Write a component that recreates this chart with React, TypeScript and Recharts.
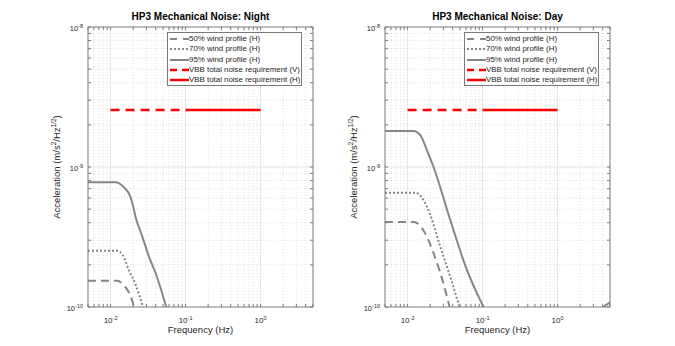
import React from 'react'
import { LineChart, Line, XAxis, YAxis, ReferenceLine } from 'recharts'

// ── Axis ticks and labels ────────────────────────────────────────────────────

const xTicks = [0.005, 0.006, 0.007, 0.008, 0.009, 0.01, 0.02, 0.03, 0.04, 0.05, 0.06, 0.07, 0.08, 0.09,
  0.1, 0.2, 0.3, 0.4, 0.5, 0.6, 0.7, 0.8, 0.9, 1, 2, 3, 4, 5]
const xMajor = [0.01, 0.1, 1]
const xTickExp = ['-2', '-1', '0']

const yTicks = [1e-10, 2e-10, 3e-10, 4e-10, 5e-10, 6e-10, 7e-10, 8e-10, 9e-10,
  1e-9, 2e-9, 3e-9, 4e-9, 5e-9, 6e-9, 7e-9, 8e-9, 9e-9, 1e-8]
const yMajor = [1e-10, 1e-9, 1e-8]
const yTickExp = ['-10', '-9', '-8']

// ── Night series (frequency Hz / acceleration) ───────────────────────────────

const night50F = [0.005, 0.0123, 0.0145, 0.0168, 0.0185, 0.0205]
const night50V = [1.54e-10, 1.54e-10, 1.46e-10, 1.32e-10, 1.2e-10, 1.0e-10]
const night70F = [0.005, 0.0123, 0.0145, 0.0175, 0.0215, 0.027]
const night70V = [2.52e-10, 2.52e-10, 2.35e-10, 1.84e-10, 1.45e-10, 1.0e-10]
const night95F = [0.005, 0.0117, 0.0129, 0.0143, 0.0159, 0.0175, 0.0195, 0.0215, 0.0265, 0.0325, 0.0398, 0.0553]
const night95V = [7.78e-10, 7.78e-10, 7.66e-10, 7.35e-10, 6.96e-10, 6.49e-10, 5.53e-10, 4.42e-10, 3.18e-10, 2.29e-10, 1.75e-10, 1.0e-10]

// ── Day series ───────────────────────────────────────────────────────────────

const day50F = [0.005, 0.012, 0.0172, 0.0222, 0.0318, 0.0363]
const day50V = [4.05e-10, 4.05e-10, 3.36e-10, 2.42e-10, 1.32e-10, 1.0e-10]
const day70F = [0.005, 0.0127, 0.0181, 0.0273, 0.0371, 0.0493]
const day70V = [6.56e-10, 6.56e-10, 5.21e-10, 2.7e-10, 1.64e-10, 1.0e-10]
const day95F = [0.005, 0.012, 0.0148, 0.0181, 0.0222, 0.0371, 0.0618, 0.103, 1, 4.07, 5]
const day95V = [1.81e-9, 1.81e-9, 1.69e-9, 1.32e-9, 1.0e-9, 4.18e-10, 1.84e-10, 1.0e-10, null, 1.0e-10, 1.08e-10]

// ── VBB requirement ──────────────────────────────────────────────────────────

const vbbVF = [0.01, 0.1]
const vbbHF = [0.1, 1]
const vbbLevel = [2.55e-9, 2.55e-9]

// ── Styles ───────────────────────────────────────────────────────────────────

const FONT = '"Liberation Sans", Arial, Helvetica, sans-serif'
const TEXT = '#262626'
const AXIS = '#7a7a7a'
const GREY = '#868686'
const RED = '#ff0000'

const W = 340
const H = 346

const zip = (f: number[], v: (number | null)[]) => f.map((x, i) => ({ f: x, v: v[i] }))

interface SeriesDef {
  name: string
  data: { f: number; v: number | null }[]
  color: string
  width: number
  dash?: string
  type: 'monotone' | 'linear'
}

const legendItems = [
  { name: '50% wind profile (H)', color: GREY, width: 2, dash: '7 6' },
  { name: '70% wind profile (H)', color: GREY, width: 2, dash: '2 2' },
  { name: '95% wind profile (H)', color: GREY, width: 2 },
  { name: 'VBB total noise requirement (V)', color: RED, width: 2.5, dash: '7 5' },
  { name: 'VBB total noise requirement (H)', color: RED, width: 2.5 },
]

function makeSeries(f50: number[], v50: number[], f70: number[], v70: number[],
  f95: number[], v95: (number | null)[]): SeriesDef[] {
  return [
    { name: '50', data: zip(f50, v50), color: GREY, width: 2, dash: '8 5', type: 'monotone' },
    { name: '70', data: zip(f70, v70), color: GREY, width: 2, dash: '2 2', type: 'monotone' },
    { name: '95', data: zip(f95, v95), color: GREY, width: 2, type: 'monotone' },
    { name: 'vbbV', data: zip(vbbVF, vbbLevel), color: RED, width: 2.5, dash: '9 6', type: 'linear' },
    { name: 'vbbH', data: zip(vbbHF, vbbLevel), color: RED, width: 2.5, type: 'linear' },
  ]
}

// ── Ticks ────────────────────────────────────────────────────────────────────

function XTick(props: any) {
  const { x, y, payload } = props
  const i = xMajor.indexOf(payload.value)
  if (i < 0) return <g />
  return (
    <text x={x} y={y} textAnchor="middle" fill={TEXT} fontSize={8} fontFamily={FONT}>
      10<tspan dy={-3.5} fontSize={5.5}>{xTickExp[i]}</tspan>
    </text>
  )
}

function YTick(props: any) {
  const { x, y, payload } = props
  const i = yMajor.indexOf(payload.value)
  if (i < 0) return <g />
  return (
    <text x={x} y={y + 4} textAnchor="end" fill={TEXT} fontSize={7.5} fontFamily={FONT}>
      10<tspan dy={-3.5} fontSize={5.5}>{yTickExp[i]}</tspan>
    </text>
  )
}

const NoTick = () => <g />

// ── Legend ───────────────────────────────────────────────────────────────────

function LegendBox() {
  return (
    <div style={{
      position: 'absolute', left: 167, top: 32, width: 135, height: 54, boxSizing: 'border-box',
      border: `1px solid ${AXIS}`, background: '#fff', paddingTop: 1, fontFamily: FONT,
    }}>
      {legendItems.map(it => (
        <div key={it.name} style={{ display: 'flex', alignItems: 'center', height: 10.3 }}>
          <svg width={21} height={6} style={{ flexShrink: 0 }}>
            <line x1={2} x2={21} y1={3} y2={3} stroke={it.color} strokeWidth={it.width}
              strokeDasharray={it.dash} />
          </svg>
          <span style={{ fontSize: 7.9, color: TEXT, whiteSpace: 'nowrap', lineHeight: '10px' }}>{it.name}</span>
        </div>
      ))}
    </div>
  )
}

// ── One panel ────────────────────────────────────────────────────────────────

const xMinorGrid = xTicks.filter(v => !xMajor.includes(v) && v !== 0.005 && v !== 5)
const yMinorGrid = yTicks.filter(v => !yMajor.includes(v))

function NoisePanel({ title, series, left }: { title: string; series: SeriesDef[]; left: number }) {
  return (
    <div style={{ position: 'absolute', left, top: 0, width: W, height: H, fontFamily: FONT }}>
      <LineChart width={W} height={H} margin={{ top: 26, right: 0, bottom: 0, left: 0 }}>
        <XAxis xAxisId="b" type="number" dataKey="f" scale="log" domain={[0.005, 5]} allowDataOverflow
          ticks={xTicks} interval={0} height={39} tickSize={-3} tickMargin={19}
          axisLine={{ stroke: AXIS }} tickLine={{ stroke: AXIS }} tick={XTick} />
        <XAxis xAxisId="t" orientation="top" type="number" dataKey="f" scale="log" domain={[0.005, 5]}
          allowDataOverflow ticks={xTicks} interval={0} height={1} tickSize={-3}
          axisLine={{ stroke: AXIS }} tickLine={{ stroke: AXIS }} tick={NoTick} />
        <YAxis yAxisId="l" type="number" scale="log" domain={[1e-10, 1e-8]} allowDataOverflow
          ticks={yTicks} interval={0} width={88} tickSize={-3} tickMargin={8}
          axisLine={{ stroke: AXIS }} tickLine={{ stroke: AXIS }} tick={YTick} />
        <YAxis yAxisId="r" orientation="right" type="number" scale="log" domain={[1e-10, 1e-8]}
          allowDataOverflow ticks={yTicks} interval={0} width={27} tickSize={-3}
          axisLine={{ stroke: AXIS }} tickLine={{ stroke: AXIS }} tick={NoTick} />

        {xMinorGrid.map(v => (
          <ReferenceLine key={'xm' + v} x={v} xAxisId="b" yAxisId="l" stroke="#e0e0e0" strokeDasharray="1 2" />
        ))}
        {yMinorGrid.map(v => (
          <ReferenceLine key={'ym' + v} y={v} xAxisId="b" yAxisId="l" stroke="#e0e0e0" strokeDasharray="1 2" />
        ))}
        {xMajor.map(v => (
          <ReferenceLine key={'xM' + v} x={v} xAxisId="b" yAxisId="l" stroke="#e3e3e3" />
        ))}
        <ReferenceLine y={1e-9} xAxisId="b" yAxisId="l" stroke="#e3e3e3" />

        {series.map(s => (
          <Line key={s.name} xAxisId="b" yAxisId="l" data={s.data} dataKey="v" type={s.type}
            stroke={s.color} strokeWidth={s.width} strokeDasharray={s.dash} dot={false}
            activeDot={false} isAnimationActive={false} connectNulls={false} />
        ))}
      </LineChart>

      <div style={{
        position: 'absolute', left: 88, width: 225, top: 11, textAlign: 'center',
        fontSize: 10, fontWeight: 700, color: '#000', lineHeight: '12px', whiteSpace: 'nowrap',
      }}>{title}</div>

      <div style={{
        position: 'absolute', left: 88, width: 225, top: 324, textAlign: 'center',
        fontSize: 9.5, color: TEXT, lineHeight: '12px',
      }}>Frequency (Hz)</div>

      <div style={{
        position: 'absolute', left: 57, top: 167, transform: 'translate(-50%, -50%) rotate(-90deg)',
        fontSize: 9.5, color: TEXT, whiteSpace: 'nowrap', lineHeight: '12px',
      }}>
        Acceleration (m/s<sup style={{ fontSize: 6.5, lineHeight: 0 }}>2</sup>/Hz
        <sup style={{ fontSize: 6.5, lineHeight: 0 }}>1/2</sup>)
      </div>

      <LegendBox />
    </div>
  )
}

export default function App() {
  const night = makeSeries(night50F, night50V, night70F, night70V, night95F, night95V)
  const day = makeSeries(day50F, day50V, day70F, day70V, day95F, day95V)
  return (
    <div style={{ position: 'absolute', left: 0, top: 0, width: 675, height: 346, background: '#fff', overflow: 'hidden' }}>
      <NoisePanel title="HP3 Mechanical Noise: Night" series={night} left={0} />
      <NoisePanel title="HP3 Mechanical Noise: Day" series={day} left={297} />
    </div>
  )
}
